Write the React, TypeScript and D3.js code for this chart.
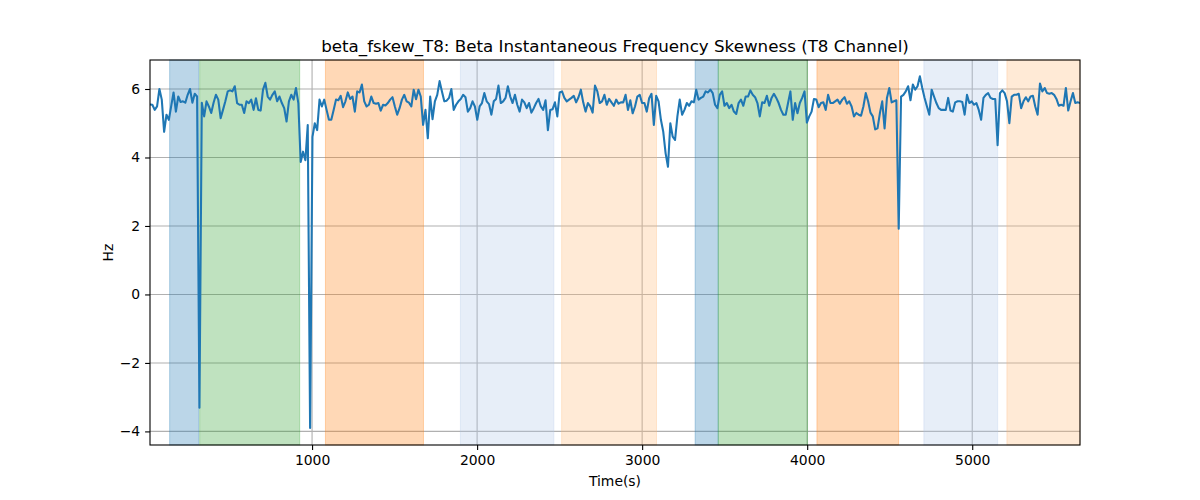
import { useRef, useEffect } from 'react';
import * as d3 from 'd3';

// sampled beta skewness values (Hz), evenly spaced in time
const values: number[] = [
  5.55, 5.54, 5.39, 5.49, 6.0, 5.69, 4.75, 5.25, 5.1, 5.5, 5.9, 5.34, 5.78, 5.62, 5.64, 5.6, 5.83, 6.0, 5.6, 5.86, 5.78,
  -3.31,
  5.6, 5.2, 5.64, 5.49, 5.3, 5.6, 5.83, 5.69, 5.15, 5.39, 5.64, 5.93, 5.96, 5.93, 6.08, 5.59, 5.54, 5.54, 5.3, 5.64,
  5.59, 5.69, 5.39, 5.73, 5.39, 5.37, 5.98, 6.18, 5.78, 5.69, 5.83, 5.93, 5.64, 5.78, 5.59, 5.44, 5.05, 5.64, 5.83, 5.69,
  6.03, 5.59, 3.87, 4.17, 3.92, 4.95, -3.9,
  4.6, 5.0, 4.8, 5.69, 5.49, 5.69, 5.39, 5.1, 5.1, 5.39, 5.69, 5.67, 5.8, 5.47, 5.64, 5.9, 5.71, 5.78, 5.34, 5.93,
  5.9, 6.13, 5.64, 5.49, 5.54, 5.78, 5.59, 5.57, 5.59, 5.37, 5.54, 5.52, 5.59, 5.69, 5.76, 5.49, 5.25, 5.44, 5.69, 5.83,
  5.64, 5.6, 5.49, 5.98, 5.7, 5.98, 5.78, 4.95, 5.39, 4.56, 5.78, 5.12, 5.64, 5.83, 6.23, 5.93, 5.64, 5.66, 5.74, 6.0, 5.39,
  5.54, 5.64, 5.71, 5.83, 5.76, 5.34, 5.44, 5.64, 5.49, 5.1,
  5.49, 5.59, 5.88, 5.64, 5.56, 5.25, 5.64, 5.71, 6.1, 5.59, 5.64, 5.74, 6.08, 5.78, 5.59, 5.83, 5.54, 5.34, 5.69, 5.61,
  5.44, 5.59, 5.31, 5.44, 5.59, 5.71, 5.49, 5.39, 5.67, 4.8, 5.39, 5.41, 5.61, 5.2, 5.9, 5.93, 5.74, 5.64, 5.69, 5.74,
  5.8, 5.61, 5.76, 5.98, 5.61, 5.34, 5.59, 5.49, 5.31, 6.1, 5.93, 5.59, 5.64, 5.83, 5.54, 5.71, 5.61, 5.51, 5.69, 5.57,
  5.61, 5.61, 5.83, 5.39, 5.67, 5.29, 5.49, 5.78, 5.83,
  5.59, 5.59, 5.34, 5.73, 5.86, 4.95, 5.8, 5.64, 5.1, 4.75, 4.12, 3.73, 5.0, 4.61, 4.51, 5.2, 5.69, 5.25, 5.39, 5.59,
  5.51, 5.64, 5.61, 5.98, 5.69, 5.74, 5.78, 5.93, 5.9, 5.98, 5.88, 5.54, 5.44, 5.83, 5.93, 5.51, 5.59, 5.44, 5.54, 5.34,
  5.27, 5.59, 5.69, 5.51, 5.78, 5.78, 5.96, 5.83, 5.76, 5.59, 5.2, 5.61, 5.59, 5.8, 5.51, 5.74, 5.86, 5.74, 5.59, 5.39,
  5.25, 5.25, 5.59, 5.93, 5.1, 5.59, 5.29, 5.59, 5.74, 5.93, 5.02, 5.2,
  5.34, 5.71, 5.69, 5.47, 5.59, 5.61, 5.39, 5.83, 5.59, 5.59, 5.64, 5.69, 5.57, 5.69, 5.76, 5.57, 5.64, 5.49, 5.2, 5.3,
  5.25, 5.22, 5.49, 5.88, 5.64, 5.31, 5.2, 4.82, 4.85, 5.29, 5.64, 4.85, 5.74, 6.03, 5.61, 5.64, 5.67, 1.92, 5.78, 5.83,
  5.93, 6.08, 5.67, 6.13, 5.98, 6.08, 6.37, 6.03, 5.74, 5.49, 5.25, 5.98, 5.78, 5.59, 5.44, 5.39, 5.39, 5.39, 5.74, 5.37,
  5.34, 5.61, 5.64, 5.64,
  5.62, 5.25, 5.83, 5.59, 5.64, 5.54, 5.59, 5.39, 5.1, 5.74, 5.83, 5.88, 5.74, 5.71, 5.71, 4.36, 5.88, 5.96, 5.88, 5.64,
  5.0, 5.78, 5.83, 5.83, 5.86, 5.44, 5.64, 5.76, 5.64, 5.78, 5.8, 5.49, 5.25, 6.16, 5.93, 6.03, 5.88, 5.86, 5.88, 5.83,
  5.71, 5.51, 5.54, 5.51, 6.03, 5.37, 5.64, 5.88, 5.59, 5.61, 5.59,
];

const tStart = 18;
const tEnd = 5653;

// shaded stage intervals [start, end] in seconds
const spanStarts = [137, 319, 1081, 1899, 2512, 3321, 3461, 4059, 4707, 5210];
const spanEnds = [313, 925, 1675, 2465, 3087, 3461, 4002, 4554, 5154, 5653];
const spanColors = ['#1f77b4', '#2ca02c', '#ff7f0e', '#aec7e8', '#ffbb78', '#1f77b4', '#2ca02c', '#ff7f0e', '#aec7e8', '#ffbb78'];

const xTicks = [1000, 2000, 3000, 4000, 5000];
const yTicks = [-4, -2, 0, 2, 4, 6];

const title = 'beta_fskew_T8: Beta Instantaneous Frequency Skewness (T8 Channel)';

const W = 1200;
const H = 500;
const m = { left: 150, right: 1080, top: 60, bottom: 445 };

export default function App() {
  const svgRef = useRef<SVGSVGElement | null>(null);

  useEffect(() => {
    const svg = d3.select(svgRef.current);
    svg.selectAll('*').remove();

    const step = (tEnd - tStart) / (values.length - 1);
    const data = values.map((v, i) => ({ t: tStart + i * step, v }));

    const x = d3.scaleLinear().domain([tStart, tEnd]).range([m.left, m.right]);
    const y = d3.scaleLinear().domain([-4.397, 6.847]).range([m.bottom, m.top]);

    const font = 'DejaVu Sans, sans-serif';

    // grid
    const grid = svg.append('g');
    grid.selectAll('line.gx')
      .data(xTicks)
      .join('line')
      .attr('x1', (d) => x(d)).attr('x2', (d) => x(d))
      .attr('y1', m.top).attr('y2', m.bottom)
      .attr('stroke', '#b0b0b0').attr('stroke-width', 1.1);
    grid.selectAll('line.gy')
      .data(yTicks)
      .join('line')
      .attr('x1', m.left).attr('x2', m.right)
      .attr('y1', (d) => y(d)).attr('y2', (d) => y(d))
      .attr('stroke', '#b0b0b0').attr('stroke-width', 1.1);

    // spans
    svg.append('g')
      .selectAll('rect')
      .data(spanStarts.map((s, i) => ({ s, e: spanEnds[i], c: spanColors[i] })))
      .join('rect')
      .attr('x', (d) => x(d.s))
      .attr('y', m.top)
      .attr('width', (d) => x(d.e) - x(d.s))
      .attr('height', m.bottom - m.top)
      .attr('fill', (d) => d.c)
      .attr('fill-opacity', 0.3)
      .attr('stroke', (d) => d.c)
      .attr('stroke-opacity', 0.3)
      .attr('stroke-width', 1);

    // line
    const line = d3.line<{ t: number; v: number }>()
      .x((d) => x(d.t))
      .y((d) => y(d.v));
    svg.append('defs').append('clipPath').attr('id', 'clip')
      .append('rect')
      .attr('x', m.left).attr('y', m.top)
      .attr('width', m.right - m.left).attr('height', m.bottom - m.top);
    svg.append('path')
      .datum(data)
      .attr('d', line)
      .attr('clip-path', 'url(#clip)')
      .attr('fill', 'none')
      .attr('stroke', '#1f77b4')
      .attr('stroke-width', 2.08)
      .attr('stroke-linejoin', 'round')
      .attr('stroke-linecap', 'square');

    // axes
    const xAxis = d3.axisBottom(x).tickValues(xTicks).tickSize(4.9).tickPadding(4.9).tickFormat(d3.format('d'));
    const xg = svg.append('g').attr('transform', `translate(0,${m.bottom})`).call(xAxis);
    const yAxis = d3.axisLeft(y).tickValues(yTicks).tickSize(4.9).tickPadding(4.9)
      .tickFormat((d: any) => (d < 0 ? `\u2212${Math.abs(d)}` : `${d}`));
    const yg = svg.append('g').attr('transform', `translate(${m.left},0)`).call(yAxis);
    [xg, yg].forEach((g) => {
      g.select('.domain').remove();
      g.selectAll('line').attr('stroke', '#000').attr('stroke-width', 1.1);
      g.selectAll('text').attr('font-family', font).attr('font-size', 13.9).attr('fill', '#000');
    });

    // frame
    svg.append('rect')
      .attr('x', m.left).attr('y', m.top)
      .attr('width', m.right - m.left).attr('height', m.bottom - m.top)
      .attr('fill', 'none').attr('stroke', '#000').attr('stroke-width', 1.1);

    // labels
    svg.append('text')
      .attr('x', (m.left + m.right) / 2).attr('y', 52)
      .attr('text-anchor', 'middle')
      .attr('font-family', font).attr('font-size', 16.7)
      .text(title);
    svg.append('text')
      .attr('x', (m.left + m.right) / 2).attr('y', 486)
      .attr('text-anchor', 'middle')
      .attr('font-family', font).attr('font-size', 13.9)
      .text('Time(s)');
    svg.append('text')
      .attr('transform', `translate(113,${(m.top + m.bottom) / 2}) rotate(-90)`)
      .attr('text-anchor', 'middle')
      .attr('font-family', font).attr('font-size', 13.9)
      .text('Hz');
  }, []);

  return (
    <svg
      ref={svgRef}
      width={W}
      height={H}
      style={{ position: 'absolute', left: 0, top: 0, background: '#fff' }}
    />
  );
}
